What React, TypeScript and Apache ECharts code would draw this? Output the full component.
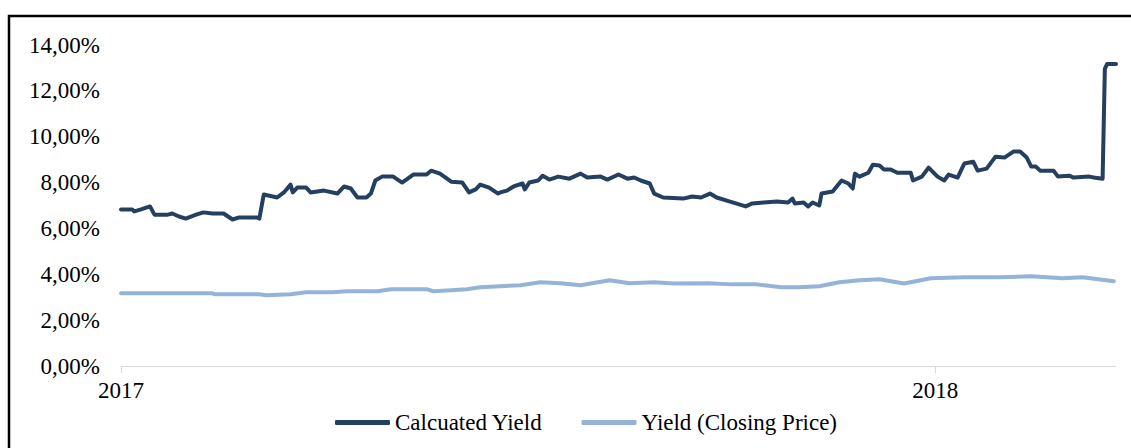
import React, { useEffect, useRef } from "react";
import * as echarts from "echarts";

// x = days since 2017-01-01, y = yield in %
const calcDays = [0, 5, 6, 9, 13, 15, 21, 23, 26, 29, 34, 37, 41, 46, 50, 53, 61, 62, 64, 70, 73, 76, 77, 79, 83, 85, 91, 97, 100, 103, 106, 110, 112, 114, 117, 122, 126, 131, 137, 139, 143, 148, 153, 156, 159, 161, 165, 169, 170, 173, 176, 180, 181, 183, 187, 189, 192, 196, 201, 206, 209, 215, 218, 223, 227, 230, 233, 237, 239, 243, 252, 256, 260, 264, 267, 273, 280, 283, 288, 294, 299, 301, 302, 306, 308, 310, 313, 314, 319, 323, 326, 328, 329, 331, 335, 337, 340, 342, 345, 348, 354, 355, 359, 362, 366, 369, 371, 375, 378, 382, 384, 388, 392, 396, 400, 403, 406, 408, 410, 412, 418, 420, 425, 427, 434, 436, 440, 441, 442, 446];
const calcValues = [6.83, 6.83, 6.74, 6.83, 6.96, 6.6, 6.6, 6.65, 6.52, 6.43, 6.61, 6.7, 6.65, 6.65, 6.39, 6.48, 6.48, 6.43, 7.48, 7.35, 7.57, 7.91, 7.57, 7.78, 7.78, 7.57, 7.65, 7.52, 7.83, 7.74, 7.35, 7.35, 7.52, 8.09, 8.26, 8.26, 8.0, 8.35, 8.35, 8.52, 8.39, 8.04, 8.0, 7.57, 7.7, 7.91, 7.78, 7.52, 7.57, 7.65, 7.83, 7.96, 7.7, 8.0, 8.09, 8.3, 8.13, 8.26, 8.17, 8.39, 8.22, 8.26, 8.13, 8.35, 8.17, 8.22, 8.09, 7.96, 7.52, 7.35, 7.3, 7.39, 7.35, 7.52, 7.35, 7.17, 6.96, 7.09, 7.13, 7.17, 7.13, 7.3, 7.09, 7.13, 6.96, 7.13, 7.0, 7.52, 7.61, 8.09, 7.96, 7.74, 8.39, 8.26, 8.43, 8.78, 8.74, 8.57, 8.57, 8.43, 8.43, 8.09, 8.26, 8.65, 8.26, 8.09, 8.35, 8.22, 8.83, 8.91, 8.52, 8.61, 9.13, 9.09, 9.35, 9.35, 9.09, 8.7, 8.7, 8.52, 8.52, 8.26, 8.3, 8.22, 8.26, 8.22, 8.17, 12.96, 13.17, 13.17];

const closeDays = [0, 41, 42, 62, 65, 76, 83, 95, 101, 115, 121, 137, 140, 148, 155, 161, 170, 179, 188, 197, 206, 219, 228, 239, 248, 263, 274, 285, 296, 304, 313, 322, 331, 340, 351, 363, 378, 394, 408, 422, 431, 445];
const closeValues = [3.17, 3.17, 3.13, 3.13, 3.09, 3.13, 3.22, 3.22, 3.26, 3.26, 3.35, 3.35, 3.26, 3.3, 3.35, 3.43, 3.48, 3.52, 3.65, 3.61, 3.52, 3.74, 3.61, 3.65, 3.6, 3.61, 3.56, 3.56, 3.43, 3.43, 3.48, 3.65, 3.74, 3.78, 3.6, 3.83, 3.87, 3.87, 3.91, 3.83, 3.87, 3.7];

const yearTicks = [0, 365];
const yearLabels = ["2017", "2018"];
const seriesNames = ["Calcuated Yield", "Yield (Closing Price)"];
const seriesColors = ["#243F60", "#95B3D7"];

const FONT = "'Liberation Serif', 'Times New Roman', serif";

export default function App() {
  const ref = useRef<HTMLDivElement>(null);
  useEffect(() => {
    if (!ref.current) return;
    const chart = echarts.init(ref.current, null, { renderer: "svg" });
    const zip = (xs: number[], ys: number[]) => xs.map((x, i) => [x, ys[i]]);
    chart.setOption({
      animation: false,
      backgroundColor: "#ffffff",
      grid: { left: 121, right: 15, top: 45, bottom: 82, containLabel: false },
      xAxis: {
        type: "value",
        min: 0,
        max: 446,
        interval: 365,
        axisLine: { show: true, lineStyle: { color: "#d9d9d9", width: 1 } },
        axisTick: { show: true, length: 7, lineStyle: { color: "#d9d9d9" }, customValues: yearTicks },
        splitLine: { show: false },
        axisLabel: {
          customValues: yearTicks,
          margin: 13,
          color: "#000",
          fontFamily: FONT,
          fontSize: 23,
          formatter: (v: number) => {
            const i = yearTicks.indexOf(v);
            return i >= 0 ? yearLabels[i] : "";
          },
        },
      },
      yAxis: {
        type: "value",
        min: 0,
        max: 14,
        interval: 2,
        axisLine: { show: false },
        axisTick: { show: false },
        splitLine: { show: false },
        axisLabel: {
          margin: 21,
          color: "#000",
          fontFamily: FONT,
          fontSize: 23,
          formatter: (v: number) => v.toFixed(2).replace(".", ",") + "%",
        },
      },
      legend: {
        left: 330,
        top: 406,
        icon: "roundRect",
        itemWidth: 55,
        itemHeight: 5,
        itemGap: 39,
        textStyle: { color: "#000", fontFamily: FONT, fontSize: 23 },
        data: seriesNames,
      },
      graphic: [
        {
          type: "rect",
          shape: { x: 9, y: 16, width: 1300, height: 700 },
          style: { fill: "none", stroke: "#000", lineWidth: 2.5 },
          silent: true,
        },
      ],
      series: [
        {
          name: seriesNames[0],
          type: "line",
          data: zip(calcDays, calcValues),
          showSymbol: false,
          symbol: "none",
          color: seriesColors[0],
          lineStyle: { color: seriesColors[0], width: 4, join: "round", cap: "round" },
          z: 3,
        },
        {
          name: seriesNames[1],
          type: "line",
          data: zip(closeDays, closeValues),
          showSymbol: false,
          symbol: "none",
          color: seriesColors[1],
          lineStyle: { color: seriesColors[1], width: 4, join: "round", cap: "round" },
          z: 2,
        },
      ],
    });
    return () => chart.dispose();
  }, []);
  return (
    <div
      ref={ref}
      style={{ position: "fixed", left: 0, top: 0, width: 1131, height: 448 }}
    />
  );
}
